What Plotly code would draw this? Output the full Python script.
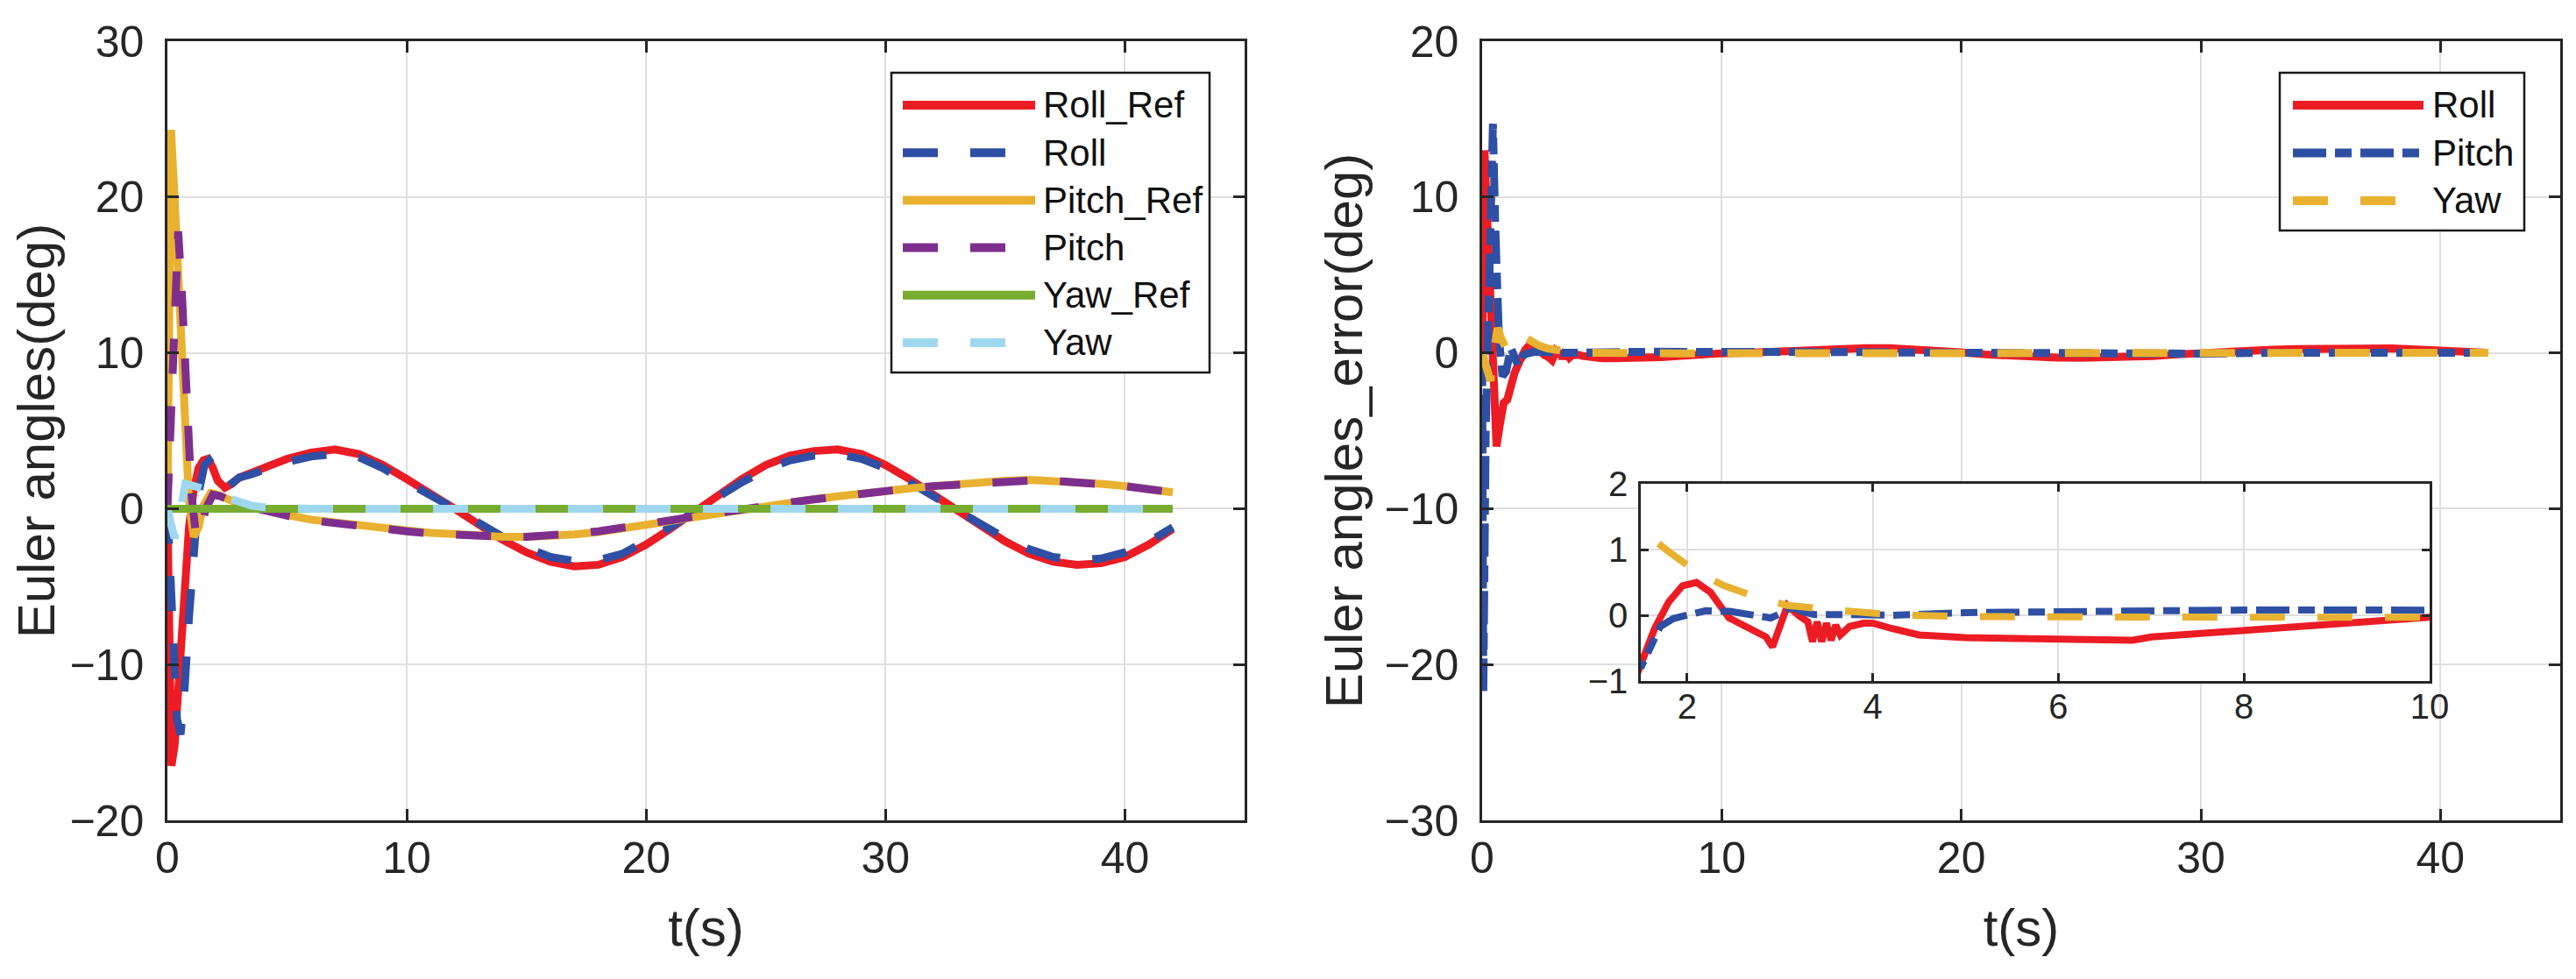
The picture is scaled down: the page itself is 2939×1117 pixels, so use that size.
import plotly.graph_objects as go

# ---------------- data ----------------
# Left panel: Euler angles (deg)
t_roll_ref = [0, 0.08, 0.17, 0.3, 0.5, 0.7, 0.9, 1.1, 1.3, 1.5, 1.7, 1.9, 2.1, 2.4, 2.7, 3.0, 3.5, 4,
              5, 6, 7, 8, 9, 10, 11, 12, 13, 14, 15, 16, 17, 18, 19, 20, 21, 22, 23, 24,
              25, 26, 27, 28, 29, 30, 31, 32, 33, 34, 35, 36, 37, 38, 39, 40, 41, 42]
roll_ref = [0, -9, -16.5, -15.2, -10.5, -5, -1.2, 1.2, 2.6, 3.1, 3.2, 2.6, 1.8, 1.35, 1.6, 2.0, 2.3, 2.6,
            3.2, 3.6, 3.8, 3.5, 2.8, 1.9, 1.0, 0.0, -1.0, -2.0, -2.8, -3.4, -3.7, -3.6, -3.1, -2.3, -1.3, -0.2, 0.9, 1.9,
            2.8, 3.4, 3.7, 3.8, 3.5, 2.8, 1.9, 0.9, -0.2, -1.2, -2.1, -2.9, -3.4, -3.6, -3.5, -3.1, -2.3, -1.3]

t_roll = [0, 0.1, 0.25, 0.4, 0.55, 0.7, 0.9, 1.1, 1.3, 1.55, 1.75, 2.0, 2.2, 2.5, 2.8, 3.0, 3.5, 4,
          5, 6, 7, 8, 9, 10, 11, 12, 13, 14, 15, 16, 17, 18, 19, 20, 21, 22, 23, 24,
          25, 26, 27, 28, 29, 30, 31, 32, 33, 34, 35, 36, 37, 38, 39, 40, 41, 42]
roll = [0, -3, -9, -13.5, -14.5, -12, -7, -2.5, 1.0, 2.8, 3.1, 2.6, 1.8, 1.4, 1.7, 2.0, 2.2, 2.5,
        3.0, 3.35, 3.5, 3.3, 2.6, 1.7, 0.9, 0.0, -0.9, -1.8, -2.5, -3.1, -3.35, -3.3, -2.9, -2.1, -1.2, -0.2, 0.8, 1.7,
        2.5, 3.1, 3.4, 3.5, 3.2, 2.6, 1.7, 0.8, -0.2, -1.1, -1.9, -2.6, -3.1, -3.3, -3.2, -2.8, -2.1, -1.2]

t_pitch_ref = [0, 0.05, 0.15, 0.3, 0.5, 0.7, 0.9, 1.1, 1.3, 1.5, 1.8, 2.1, 2.5, 3.0, 3.5, 4,
               5, 6, 7, 8, 9, 10, 11, 12, 13, 14, 15, 16, 17, 18, 19, 20, 21, 22, 23, 24,
               25, 26, 27, 28, 29, 30, 31, 32, 33, 34, 35, 36, 37, 38, 39, 40, 41, 42]
pitch_ref = [0, 12, 24.3, 20, 13, 6, 0.5, -1.8, -1.2, 0.2, 1.0, 0.9, 0.6, 0.3, 0.1, -0.1,
             -0.4, -0.7, -0.9, -1.1, -1.25, -1.4, -1.55, -1.65, -1.75, -1.8, -1.8, -1.75, -1.65, -1.5, -1.3, -1.05,
             -0.8, -0.55, -0.3, -0.05, 0.15, 0.4, 0.6, 0.8, 1.0, 1.15, 1.3, 1.45, 1.6, 1.7,
             1.8, 1.85, 1.8, 1.75, 1.6, 1.45, 1.25, 1.05]

t_pitch = [0, 0.2, 0.45, 0.6, 0.8, 1.0, 1.2, 1.4, 1.6, 1.9, 2.2, 2.6, 3.0, 3.5, 4,
           5, 6, 7, 8, 9, 10, 11, 12, 13, 14, 15, 16, 17, 18, 19, 20, 21, 22, 23, 24,
           25, 26, 27, 28, 29, 30, 31, 32, 33, 34, 35, 36, 37, 38, 39, 40, 41, 42]
pitch = [0, 8, 17.8, 14, 7, 1, -1.8, -1.5, 0, 0.9, 0.8, 0.5, 0.3, 0.1, -0.1,
         -0.45, -0.75, -0.95, -1.15, -1.3, -1.45, -1.6, -1.7, -1.75, -1.8, -1.8, -1.75, -1.6, -1.45, -1.25, -1.0,
         -0.75, -0.5, -0.25, 0.0, 0.2, 0.4, 0.6, 0.8, 1.0, 1.15, 1.3, 1.45, 1.55, 1.65,
         1.75, 1.8, 1.8, 1.7, 1.6, 1.45, 1.25, 1.05]

t_yaw_ref = [0, 42]
yaw_ref = [0, 0]

t_yaw = [0, 0.15, 0.3, 0.5, 0.75, 1.0, 1.5, 2.0, 2.5, 3.0, 3.5, 4, 5, 6, 42]
yaw = [0, -1.2, -1.9, -0.5, 1.6, 1.5, 1.3, 1.05, 0.7, 0.4, 0.2, 0.1, 0.03, 0, 0]

# Right panel: Euler angle errors (deg)
t_err_roll = [0, 0.05, 0.1, 0.2, 0.35, 0.5, 0.6, 0.75, 0.9, 1.05, 1.2, 1.35, 1.5, 1.65, 1.8, 1.95, 2.1,
              2.25, 2.45, 2.6, 2.75, 2.85, 2.92, 3.0, 3.08, 3.2, 3.3, 3.35, 3.4, 3.45, 3.5, 3.55, 3.6,
              3.65, 3.75, 3.9, 4.0, 4.2, 4.5, 5, 5.5, 6, 6.5, 6.8, 7, 7.5, 8, 8.5, 9, 9.5, 10,
              11, 12, 13, 14, 15, 16, 17, 18, 19, 20, 21, 22, 23, 24, 25, 26, 27, 28, 29, 30,
              31, 32, 33, 34, 35, 36, 37, 38, 39, 40, 41, 42]
err_roll = [0, 8, 13, 9, 2, -3, -6, -4.5, -3.2, -3, -2, -1.3, -0.75, -0.2, 0.2, 0.45, 0.5,
            0.35, -0.04, -0.15, -0.25, -0.33, -0.48, -0.2, 0.15, 0.0, -0.1, -0.4, -0.1, -0.4, -0.12, -0.38, -0.15,
            -0.3, -0.17, -0.12, -0.12, -0.2, -0.3, -0.34, -0.35, -0.35, -0.35, -0.38, -0.33, -0.28, -0.22, -0.16, -0.11, -0.07, -0.03,
            0.0, 0.08, 0.15, 0.22, 0.27, 0.3, 0.3, 0.25, 0.15, 0.03, -0.1, -0.2, -0.27, -0.3, -0.32, -0.3, -0.27, -0.2, -0.1, 0.0,
            0.08, 0.15, 0.2, 0.25, 0.28, 0.3, 0.3, 0.28, 0.22, 0.15, 0.07, 0.0]

t_err_pitch = [0, 0.05, 0.15, 0.3, 0.45, 0.55, 0.7, 0.85, 1.0, 1.2, 1.35, 1.5, 1.6, 1.71, 1.85, 1.95,
               2.2, 2.46, 2.7, 2.9, 3.0, 3.12, 3.25, 3.37, 3.8, 4.2, 5, 6, 7, 8, 9, 10,
               12, 15, 18, 20, 22, 25, 28, 30, 33, 36, 39, 42]
err_pitch = [0, -21.7, -5, 8, 14.7, 8, 1, -1.5, -1.2, 0.3, -0.2, -0.8, -0.5, -0.17, -0.05, -0.01,
             0.07, 0.06, 0.01, -0.04, 0.02, 0.12, 0.05, 0.01, 0.01, 0.0, 0.04, 0.06, 0.07, 0.08, 0.08, 0.09,
             0.08, 0.05, 0.02, 0.0, -0.03, -0.06, -0.08, -0.05, 0.0, 0.02, 0.01, 0.0]

t_err_yaw = [0, 0.2, 0.35, 0.5, 0.65, 0.8, 1.0, 1.2, 1.35, 1.54, 1.77, 2.12, 2.4, 2.74, 3.08, 3.6, 4.2,
             5, 6, 8, 10, 15, 20, 25, 30, 35, 42]
err_yaw = [0, -1.0, -1.8, 0.2, 1.6, 0.9, 0.3, 0.6, 1.0, 1.27, 1.0, 0.64, 0.45, 0.28, 0.15, 0.08, 0.01,
           -0.02, -0.03, -0.03, -0.03, 0.0, 0.0, 0.0, 0.0, 0.0, 0.0]

left_names = ["Roll_Ref", "Roll", "Pitch_Ref", "Pitch", "Yaw_Ref", "Yaw"]
right_names = ["Roll", "Pitch", "Yaw"]
x_ticks_main = [0, 10, 20, 30, 40]
y_ticks_left = [-20, -10, 0, 10, 20, 30]
y_ticks_right = [-30, -20, -10, 0, 10, 20]
x_ticks_inset = [2, 4, 6, 8, 10]
y_ticks_inset = [-1, 0, 1, 2]

# ---------------- styles ----------------
RED = "#EC1C24"
BLUE = "#2E4FA3"
GOLD = "#E8B130"
PURPLE = "#7E2F8E"
GREEN = "#77AC30"
CYAN = "#9FD8EE"
DASH = "40px,37px"
DASHDOT = "38px,10px,19px,10px"
LW = 9
FONT = "Liberation Sans, Arial, Helvetica, sans-serif"
TXT = "#262626"

left_series = [
    (t_roll_ref, roll_ref, RED, "solid"),
    (t_roll, roll, BLUE, DASH),
    (t_pitch_ref, pitch_ref, GOLD, "solid"),
    (t_pitch, pitch, PURPLE, DASH),
    (t_yaw_ref, yaw_ref, GREEN, "solid"),
    (t_yaw, yaw, CYAN, DASH),
]
right_series = [
    (t_err_roll, err_roll, RED, "solid"),
    (t_err_pitch, err_pitch, BLUE, DASHDOT),
    (t_err_yaw, err_yaw, GOLD, DASH),
]

# ---------------- geometry (pixels of the 2939x1117 page) ----------------
W, H = 2939, 1117
ML, MR, MT, MB = 183, 26, 39, 189
PW = W - ML - MR
PH = H - MT - MB


def fx(p):
    return (p - ML) / PW


def fy(p):
    return (H - MB - p) / PH


fig = go.Figure()

for (name, (tx, vy, col, dash)) in zip(left_names, left_series):
    fig.add_trace(go.Scatter(x=tx, y=vy, mode="lines", name=name, showlegend=False,
                             line=dict(color=col, width=LW, dash=dash), xaxis="x", yaxis="y"))

for (name, (tx, vy, col, dash)) in zip(right_names, right_series):
    fig.add_trace(go.Scatter(x=tx, y=vy, mode="lines", name=name, showlegend=False,
                             line=dict(color=col, width=LW, dash=dash), xaxis="x2", yaxis="y2"))

for (name, (tx, vy, col, dash)) in zip(right_names, right_series):
    fig.add_trace(go.Scatter(x=tx, y=vy, mode="lines", name=name + " (zoom)", showlegend=False,
                             line=dict(color=col, width=8, dash=dash), xaxis="x3", yaxis="y3"))

axis_common = dict(
    showline=True, linecolor=TXT, linewidth=2.5, mirror="ticks",
    ticks="inside", ticklen=13, tickwidth=2.5, tickcolor=TXT,
    showgrid=True, gridcolor="#DFDFDF", gridwidth=2, zeroline=False,
    tickfont=dict(family=FONT, size=50, color=TXT),
)
title_font = dict(family=FONT, size=60, color=TXT)

fig.update_layout(
    width=W, height=H,
    margin=dict(l=ML, r=MR, t=MT, b=MB, autoexpand=False),
    paper_bgcolor="white", plot_bgcolor="white",
    showlegend=False,
    xaxis=dict(axis_common, domain=[0, fx(1412)], range=[0, 45], tickvals=x_ticks_main,
               anchor="y", ticklabelstandoff=-3,
               title=dict(text="t(s)", font=title_font, standoff=32)),
    yaxis=dict(axis_common, domain=[0, 1], range=[-20, 30], tickvals=y_ticks_left,
               anchor="x", ticklabelstandoff=14,
               title=dict(text="Euler angles(deg)", font=title_font, standoff=6)),
    xaxis2=dict(axis_common, domain=[fx(1683), 1], range=[0, 45], tickvals=x_ticks_main,
                anchor="y2", ticklabelstandoff=-3,
                title=dict(text="t(s)", font=title_font, standoff=32)),
    yaxis2=dict(axis_common, domain=[0, 1], range=[-30, 20], tickvals=y_ticks_right,
                anchor="x2", ticklabelstandoff=14,
                title=dict(text="Euler angles_error(deg)", font=title_font, standoff=6)),
    xaxis3=dict(axis_common, domain=[fx(1864), fx(2764)], range=[1.5, 10], tickvals=x_ticks_inset,
                anchor="y3", ticklen=9, ticklabelstandoff=-8,
                tickfont=dict(family=FONT, size=40, color=TXT)),
    yaxis3=dict(axis_common, domain=[fy(769), fy(544)], range=[-1, 2], tickvals=y_ticks_inset,
                anchor="x3", ticklen=9, ticklabelstandoff=4,
                tickfont=dict(family=FONT, size=40, color=TXT)),
)

# ---------------- legends (box, line samples, labels) ----------------
shapes = []
annotations = []


def legend_box(x0, y0, x1, y1, rows_y, sample_x0, sample_x1, text_x, names, series):
    shapes.append(dict(type="rect", xref="paper", yref="paper",
                       x0=fx(x0), x1=fx(x1), y0=fy(y1), y1=fy(y0),
                       line=dict(color="#1a1a1a", width=2.5), fillcolor="white", layer="above"))
    for ry, name, s in zip(rows_y, names, series):
        col, dash = s[2], s[3]
        shapes.append(dict(type="line", xref="paper", yref="paper",
                           x0=fx(sample_x0), x1=fx(sample_x1), y0=fy(ry), y1=fy(ry),
                           line=dict(color=col, width=10, dash=dash), layer="above"))
        annotations.append(dict(xref="paper", yref="paper", x=fx(text_x), y=fy(ry),
                                xanchor="left", yanchor="middle", showarrow=False,
                                text=name, font=dict(family=FONT, size=42, color="#111111")))


legend_box(1009, 75, 1372, 417, [112 + 54.2 * i for i in range(6)], 1022, 1173, 1180,
           left_names, left_series)
legend_box(2593, 75, 2872, 255, [112 + 54.5 * i for i in range(3)], 2608, 2757, 2765,
           right_names, right_series)

fig.update_layout(shapes=shapes, annotations=annotations)

fig.write_html("out.html")
